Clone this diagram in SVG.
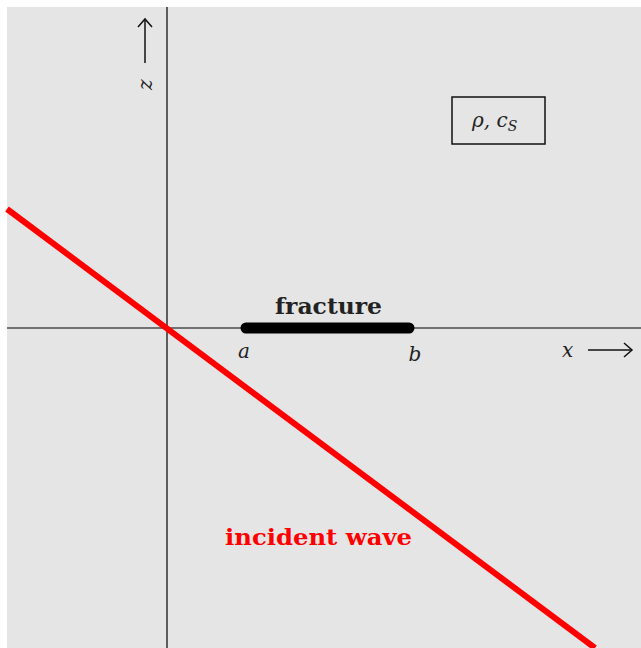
<svg xmlns="http://www.w3.org/2000/svg" width="641" height="648" viewBox="0 0 641 648">
<style>
.m{font-family:'DejaVu Serif',serif;font-style:italic;font-size:20px;fill:#222}
.b{font-family:'DejaVu Serif',serif;font-weight:bold;font-size:22px}
.ax{stroke:#000;stroke-width:1.2}
</style>
<rect x="7" y="7" width="634" height="641" fill="#e5e5e5"/>
<g id="axes" class="ax">
<line x1="167" y1="7" x2="167" y2="648"/>
<line x1="7" y1="328" x2="641" y2="328"/>
</g>
<g id="wave">
<line x1="7" y1="209" x2="595" y2="648" stroke="#ff0000" stroke-width="6"/>
<text class="b" x="225" y="545" fill="#ff0000" textLength="187" lengthAdjust="spacingAndGlyphs">incident wave</text>
</g>
<g id="fracture">
<line x1="246" y1="328" x2="409" y2="328" stroke="#000" stroke-width="11" stroke-linecap="round"/>
<text class="b" x="275" y="314" fill="#222" textLength="107" lengthAdjust="spacingAndGlyphs">fracture</text>
<text class="m" x="244" y="358" text-anchor="middle">a</text>
<text class="m" x="415" y="361" text-anchor="middle">b</text>
</g>
<g id="xlabel">
<text class="m" x="562" y="357">x</text>
<line x1="588" y1="350" x2="632" y2="350" stroke="#111" stroke-width="1.5"/>
<path d="M624 343 L632 350 L624 357" fill="none" stroke="#111" stroke-width="1.5"/>
</g>
<g id="zlabel">
<text class="m" x="0" y="0" transform="translate(152,90) rotate(-90)">z</text>
<line x1="145" y1="63" x2="145" y2="19" stroke="#111" stroke-width="1.5"/>
<path d="M138 27 L145 19 L152 27" fill="none" stroke="#111" stroke-width="1.5"/>
</g>
<g id="material">
<rect x="452" y="97" width="93" height="47" fill="none" stroke="#111" stroke-width="1.5"/>
<text class="m" x="472" y="127">ρ, c<tspan font-size="14" dy="4">S</tspan></text>
</g>
</svg>
